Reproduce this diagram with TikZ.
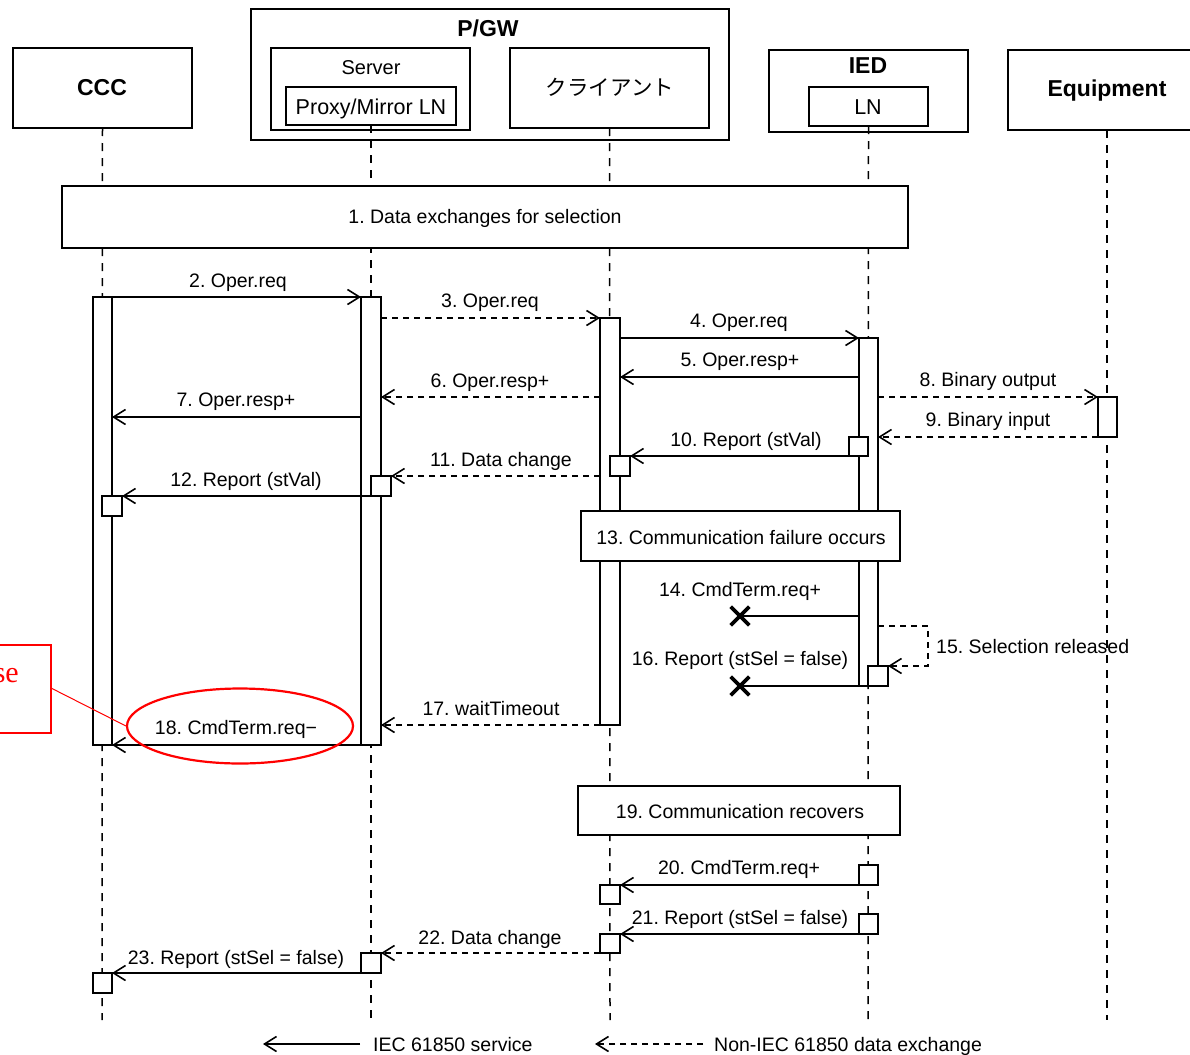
\documentclass[tikz,border=0pt]{standalone}
\usepackage{fontspec}
\setmainfont{Liberation Sans}
\newfontfamily\cjkfont{Noto Sans CJK JP}
\newfontfamily\redserif{Liberation Serif}
\usetikzlibrary{arrows.meta,shapes.geometric,shapes.misc}
\newcommand\bx[7][]{\node[box,#1,minimum width={#5-#3},minimum height={#6-#4}] (#2) at ({(#3+#5)/2},{(#4+#6)/2}) {#7};}
\frenchspacing
\begin{document}
\begin{tikzpicture}[x=1pt,y=-1pt,
  box/.style={draw, fill=white, line width=1.6pt, inner sep=0pt, outer sep=0pt},
  lbl/.style={font=\fontsize{19.5}{22}\selectfont, anchor=base, inner sep=0pt},
  ttl/.style={font=\bfseries\fontsize{23}{26}\selectfont, anchor=base, inner sep=0pt},
  life/.style={line width=1.5pt, dash pattern=on 8pt off 7pt},
  sync/.style={line width=1.6pt, -{Straight Barb[length=12pt,width=15pt]}},
  async/.style={sync, dash pattern=on 6pt off 5pt},
  xmark/.style={draw, cross out, line width=3.6pt, minimum size=15pt, inner sep=0pt},
]
\useasboundingbox (0,0) rectangle (1190,1054);

% ---- headers
\bx{ccc}{13}{48}{192}{128}{}
\bx{pgw}{251}{9}{729}{140}{}
\bx{srv}{271}{48}{470}{130}{}
\bx{proxy}{286}{87}{456}{125}{}
\bx{cli}{510}{48}{709}{128}{}
\bx{ied}{769}{50}{968}{132}{}
\bx{ln}{809}{87}{928}{126}{}
\bx{eqp}{1008}{50}{1200}{130}{}
\node[ttl] (tccc) at (102,96) {CCC};
\node[ttl] (tpgw) at (488,37) {P/GW};
\node[lbl, font=\fontsize{20}{22}\selectfont] (tsrv) at (371,75) {Server};
\node[lbl, font=\fontsize{21.5}{24}\selectfont] (tproxy) at (371,114) {Proxy/Mirror LN};
\node[lbl, font=\cjkfont\fontsize{21.5}{24}\selectfont] (tcli) at (610,96) {クライアント};
\node[ttl] (tied) at (868,74) {IED};
\node[lbl, font=\fontsize{21.5}{24}\selectfont] (tln) at (868,114) {LN};
\node[ttl] (teqp) at (1107,97) {Equipment};

% ---- lifelines
\coordinate (eC) at (102,1020);
\coordinate (eS) at (371,1020);
\coordinate (eK) at (610,1020);
\coordinate (eI) at (868,1020);
\coordinate (eE) at (1107,1020);
\draw[life] (ccc.south) -- (eC);
\draw[life] (proxy.south) -- (eS);
\draw[life] (cli.south) -- (eK);
\draw[life] (ln.south) -- (eI);
\draw[life] (eqp.south -| eE) -- (eE);

% ---- step boxes
\bx{s1}{62}{186}{908}{248}{}
\node[lbl] (t1) at (485,223) {1. Data exchanges for selection};

% ---- activation bars
\bx{aC}{93}{297}{112}{745}{}
\bx{aS}{361}{297}{381}{745}{}
\bx{aK}{600}{318}{620}{725}{}
\bx{aI}{859}{338}{878}{686}{}
\bx{aE}{1098}{397}{1117}{437}{}

% small boxes
\bx{b10I}{849}{437}{868}{456}{}
\bx{b10K}{610}{456}{630}{476}{}
\bx{b11S}{371}{476}{391}{496}{}
\bx{b12C}{102}{496}{122}{516}{}
\bx{s13}{581}{511}{900}{561}{}
\node[lbl] (t13) at (741,544) {13. Communication failure occurs};
\bx{b15I}{868}{666}{888}{686}{}
\bx{s19}{578}{786}{900}{835}{}
\node[lbl] (t19) at (740,818) {19. Communication recovers};
\bx{b20I}{859}{865}{878}{885}{}
\bx{b20K}{600}{885}{620}{904}{}
\bx{b21I}{859}{914}{878}{934}{}
\bx{b21K}{600}{934}{620}{953}{}
\bx{b22S}{361}{953}{381}{973}{}
\bx{b23C}{93}{973}{112}{993}{}

% ---- y levels
\coordinate (y2) at (0,297);
\coordinate (y3) at (0,318);
\coordinate (y4) at (0,338);
\coordinate (y5) at (0,377);
\coordinate (y6) at (0,397);
\coordinate (y7) at (0,417);
\coordinate (y9) at (0,437);
\coordinate (y11) at (0,476);
\coordinate (y14) at (0,616);
\coordinate (y15) at (0,626);
\coordinate (y17) at (0,725);
\coordinate (y18) at (0,745);

% ---- messages
\draw[sync] (aC.east |- y2) -- (aS.west |- y2);
\node[lbl] (l2) at (238,287) {2. Oper.req};
\draw[async] (aS.east |- y3) -- (aK.west |- y3);
\node[lbl] (l3) at (490,307) {3. Oper.req};
\draw[sync] (aK.east |- y4) -- (aI.west |- y4);
\node[lbl] (l4) at (739,327) {4. Oper.req};
\draw[sync] (aI.west |- y5) -- (aK.east |- y5);
\node[lbl] (l5) at (740,366) {5. Oper.resp+};
\draw[async] (aK.west |- y6) -- (aS.east |- y6);
\node[lbl] (l6) at (490,387) {6. Oper.resp+};
\draw[sync] (aS.west |- y7) -- (aC.east |- y7);
\node[lbl] (l7) at (236,406) {7. Oper.resp+};
\draw[async] (aI.east |- y6) -- (aE.west |- y6);
\node[lbl] (l8) at (988,386) {8. Binary output};
\draw[async] (aE.south west) -- (aI.east |- y9);
\node[lbl] (l9) at (988,426) {9. Binary input};
\draw[sync] (b10I.south west) -- (b10K.north east);
\node[lbl] (l10) at (746,446) {10. Report (stVal)};
\draw[async] (aK.west |- y11) -- (b11S.north east);
\node[lbl] (l11) at (501,466) {11. Data change};
\draw[sync] (b11S.south west) -- (b12C.north east);
\node[lbl] (l12) at (246,486) {12. Report (stVal)};

\node[xmark] (x14) at (740,616) {};
\draw[line width=1.6pt] (aI.west |- y14) -- (x14.center);
\node[lbl] (l14) at (740,596) {14. CmdTerm.req+};
\coordinate (c15) at (928,626);
\draw[async] (aI.east |- y15) -| (c15 |- b15I.north east) -- (b15I.north east);
\node[lbl, anchor=base west] (l15) at (936,653) {15. Selection released};
\node[xmark] (x16) at (740,686) {};
\draw[line width=1.6pt] (b15I.south west) -- (x16.center);
\node[lbl] (l16) at (740,665) {16. Report (stSel = false)};
\draw[async] (aK.south west) -- (aS.east |- y17);
\node[lbl] (l17) at (491,715) {17. waitTimeout};
\draw[sync] (aS.south west) -- (aC.south east);
\node[lbl] (l18) at (236,734) {18. CmdTerm.req−};

\draw[sync] (b20I.south west) -- (b20K.north east);
\node[lbl] (l20) at (739,874) {20. CmdTerm.req+};
\draw[sync] (b21I.south west) -- (b21K.north east);
\node[lbl] (l21) at (740,924) {21. Report (stSel = false)};
\draw[async] (b21K.south west) -- (b22S.north east);
\node[lbl] (l22) at (490,944) {22. Data change};
\draw[sync] (b22S.south west) -- (b23C.north east);
\node[lbl] (l23) at (236,964) {23. Report (stSel = false)};

% ---- red annotation
\node[draw=red, ellipse, line width=2.2pt, minimum width=226pt, minimum height=75pt, inner sep=0pt] (ell) at (240,726) {};
\bx[draw=red, line width=1.3pt, fill=none]{rbox}{-80}{645}{51}{733}{}
\node[anchor=base east, inner sep=0pt, text=red, font=\redserif\fontsize{30}{34}\selectfont] (rtxt) at (19,682) {se};
\coordinate (rb) at (51,688);
\draw[red, line width=1pt] (rb) -- (ell.west);

% ---- legend
\coordinate (lg1a) at (360,1044);
\coordinate (lg1b) at (263,1044);
\coordinate (lg2a) at (703,1044);
\coordinate (lg2b) at (595,1044);
\draw[sync] (lg1a) -- (lg1b);
\node[lbl, anchor=base west] (lgt1) at (373,1051) {IEC 61850 service};
\draw[async] (lg2a) -- (lg2b);
\node[lbl, anchor=base west] (lgt2) at (714,1051) {Non-IEC 61850 data exchange};
\end{tikzpicture}
\end{document}
